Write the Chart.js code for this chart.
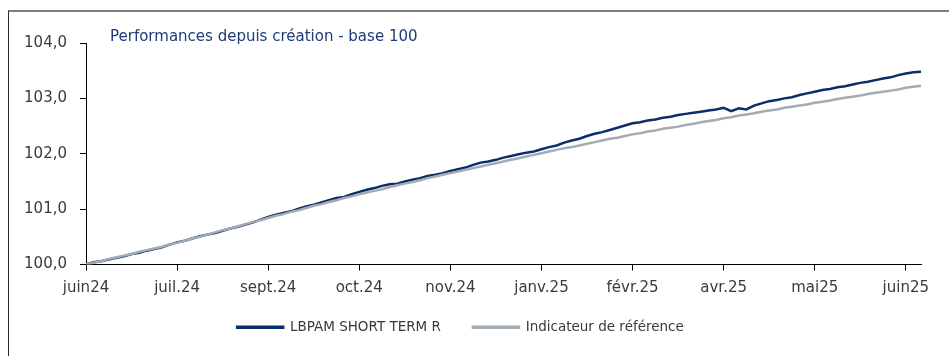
<!DOCTYPE html>
<html>
<head>
<meta charset="utf-8">
<script src="https://cdn.jsdelivr.net/npm/chart.js@4.4.1/dist/chart.umd.min.js"></script>
<style>
  html, body { margin: 0; padding: 0; background: #fff; }
  #wrap { position: relative; width: 949px; height: 356px; overflow: hidden; }
  #frame { position: absolute; left: 8px; top: 10px; width: 945px; height: 350px; border-top: 2px solid #7f7f7f; border-left: 1px solid #2b2b2b; }
  #title { position: absolute; left: 110px; top: 29px; font: 15px/15px "DejaVu Sans"; color: #1d3b78; white-space: nowrap; }
  canvas { position: absolute; left: 0; top: 0; }
</style>
</head>
<body>
<div id="wrap">
  <div id="frame"></div>
  <canvas id="chart" width="949" height="356"></canvas>
  <div id="title">Performances depuis création - base 100</div>
</div>
<script>
  // axis labels, one every 12 points
  const tickLabels = ['juin24', 'juil.24', 'sept.24', 'oct.24', 'nov.24', 'janv.25', 'févr.25', 'avr.25', 'mai25', 'juin25'];
  const pointsPerTick = 12;

  // base 100 values
  const fund = [
    100.00, 100.04, 100.06, 100.09, 100.12, 100.15, 100.19, 100.21, 100.25, 100.28, 100.31, 100.36, 100.40,
    100.43, 100.47, 100.51, 100.54, 100.57, 100.61, 100.65, 100.68, 100.72, 100.76, 100.81, 100.86,
    100.90, 100.93, 100.96, 101.01, 101.05, 101.08, 101.12, 101.16, 101.20, 101.22, 101.27, 101.31,
    101.35, 101.38, 101.42, 101.45, 101.46, 101.50, 101.53, 101.56, 101.60, 101.62, 101.65, 101.69,
    101.72, 101.75, 101.80, 101.84, 101.86, 101.89, 101.93, 101.96, 101.99, 102.02, 102.04, 102.08,
    102.12, 102.15, 102.20, 102.24, 102.27, 102.32, 102.36, 102.39, 102.43, 102.47, 102.51, 102.55,
    102.57, 102.60, 102.62, 102.65, 102.67, 102.70, 102.72, 102.74, 102.76, 102.78, 102.80, 102.83,
    102.77, 102.82, 102.80, 102.87, 102.91, 102.95, 102.97, 103.00, 103.02, 103.06, 103.09, 103.12,
    103.15, 103.17, 103.20, 103.22, 103.25, 103.28, 103.30, 103.33, 103.36, 103.38, 103.42, 103.45, 103.47, 103.48
  ];
  const indicator = [
    100.00, 100.03, 100.06, 100.10, 100.13, 100.16, 100.19, 100.23, 100.26, 100.29, 100.32, 100.36, 100.39,
    100.43, 100.47, 100.50, 100.54, 100.58, 100.62, 100.65, 100.69, 100.73, 100.77, 100.80, 100.84,
    100.88, 100.91, 100.95, 100.98, 101.02, 101.06, 101.09, 101.13, 101.16, 101.20, 101.23, 101.27,
    101.30, 101.33, 101.36, 101.40, 101.43, 101.46, 101.49, 101.52, 101.56, 101.59, 101.62, 101.65,
    101.68, 101.71, 101.74, 101.77, 101.80, 101.83, 101.86, 101.89, 101.92, 101.95, 101.98, 102.01,
    102.04, 102.07, 102.10, 102.12, 102.15, 102.18, 102.21, 102.24, 102.27, 102.29, 102.32, 102.35,
    102.37, 102.40, 102.42, 102.45, 102.47, 102.49, 102.52, 102.54, 102.57, 102.59, 102.61, 102.64,
    102.66, 102.69, 102.71, 102.73, 102.76, 102.78, 102.80, 102.83, 102.85, 102.87, 102.89, 102.92,
    102.94, 102.96, 102.99, 103.01, 103.03, 103.05, 103.08, 103.10, 103.12, 103.14, 103.16, 103.19, 103.21, 103.23
  ];

  const font = 'DejaVu Sans';
  const textColor = '#3a3a3a';
  const toPoints = arr => arr.map((v, i) => ({ x: i, y: v }));

  new Chart(document.getElementById('chart'), {
    type: 'line',
    data: {
      datasets: [{
        label: 'LBPAM SHORT TERM R',
        data: toPoints(fund),
        borderColor: '#0c2d6b',
        backgroundColor: '#0c2d6b',
        borderWidth: 2.5,
        pointRadius: 0,
        tension: 0,
        order: 1
      }, {
        label: 'Indicateur de référence',
        data: toPoints(indicator),
        borderColor: '#a3abb3',
        backgroundColor: '#a3abb3',
        borderWidth: 2.5,
        pointRadius: 0,
        tension: 0,
        order: 0
      }]
    },
    options: {
      responsive: false,
      animation: false,
      layout: { padding: { left: 0, top: 43, right: 28, bottom: 12 } },
      plugins: {
        tooltip: { enabled: false },
        legend: {
          position: 'bottom',
          labels: {
            boxWidth: 46, boxHeight: 1, padding: 32,
            color: textColor,
            font: { family: font, size: 13.5 },
            sort: (a, b) => a.datasetIndex - b.datasetIndex
          }
        }
      },
      scales: {
        x: {
          type: 'linear',
          min: 0,
          max: fund.length - 1,
          ticks: {
            stepSize: pointsPerTick,
            includeBounds: false,
            autoSkip: false,
            maxRotation: 0,
            // mirrored so the labels are not clipped to the short axis box,
            // negative padding puts them back below the axis
            mirror: true,
            padding: -33,
            color: textColor,
            font: { family: font, size: 15 },
            callback: v => tickLabels[v / pointsPerTick] ?? ''
          },
          grid: { drawOnChartArea: false, tickLength: 6, color: '#000', tickColor: '#000' },
          border: { color: '#000', width: 1 },
          afterFit: s => { s.height = 24; s.paddingLeft = 0; s.paddingRight = 0; }
        },
        y: {
          min: 100,
          max: 104,
          ticks: {
            stepSize: 1,
            padding: 13,
            color: textColor,
            font: { family: font, size: 15 },
            callback: v => v.toFixed(1).replace('.', ',')
          },
          grid: { drawOnChartArea: false, tickLength: 6, color: '#000', tickColor: '#000' },
          border: { color: '#000', width: 1 },
          afterFit: s => { s.width = 86; }
        }
      }
    }
  });
</script>
</body>
</html>
